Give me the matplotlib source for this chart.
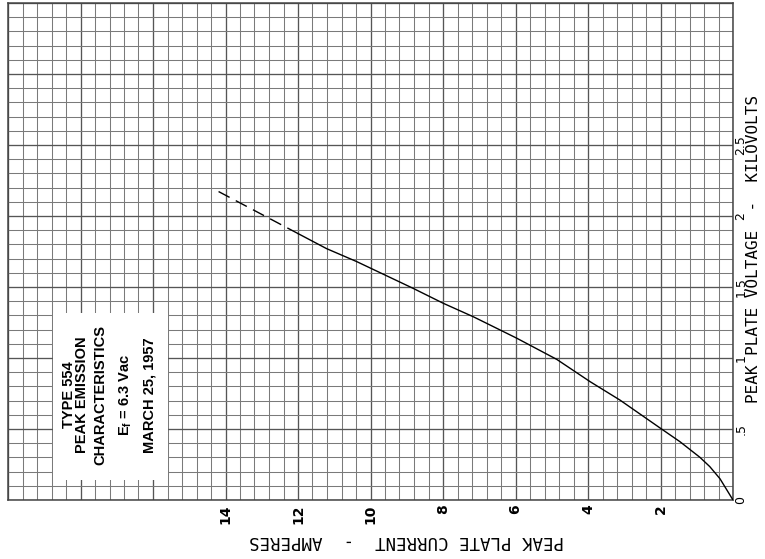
import numpy as np
import matplotlib
matplotlib.use("Agg")
import matplotlib.pyplot as plt
from matplotlib.patches import Rectangle

# peak plate current (A) vs peak plate voltage (kV)
current_solid = [0, 0.36, 0.64, 0.91, 1.46, 2.0, 3.12, 3.94, 4.86, 5.97,
                 7.16, 7.99, 8.82, 10.39, 11.21, 11.99]
voltage_solid = [0, 0.15, 0.235, 0.30, 0.41, 0.505, 0.704, 0.833, 0.99, 1.14,
                 1.29, 1.385, 1.49, 1.68, 1.77, 1.875]
current_dash = [11.99, 14.36]
voltage_dash = [1.875, 2.195]

current_ticks = [2, 4, 6, 8, 10, 12, 14]
current_labels = ["2", "4", "6", "8", "10", "12", "14"]
voltage_ticks = [0, 0.5, 1, 1.5, 2, 2.5]
voltage_labels = ["0", ".5", "1", "1.5", "2", "2.5"]

note_lines = ["TYPE 554", "PEAK EMISSION", "CHARACTERISTICS",
              r"E$_\mathregular{f}$ = 6.3 Vac", "MARCH 25, 1957"]

W, H = 765, 559
fig = plt.figure(figsize=(W / 100, H / 100), dpi=100)
ax = fig.add_axes([8 / W, (H - 500) / H, 725 / W, 497 / H])
ax.set_xlim(20, 0)
ax.set_ylim(0, 3.5)

# graph paper
xs = np.arange(0, 20.01, 0.4)
ys = np.arange(0, 3.501, 0.1)
for i, x in enumerate(xs):
    major = i % 5 == 0
    ax.axvline(x, color="#555555" if major else "#7a7a7a",
               lw=0.95 if major else 0.75, zorder=1)
for i, y in enumerate(ys):
    major = i % 5 == 0
    ax.axhline(y, color="#555555" if major else "#7a7a7a",
               lw=0.95 if major else 0.75, zorder=1)
for s in ax.spines.values():
    s.set_color("#444444")
    s.set_linewidth(1.1)

# the curve
ax.plot(current_solid, voltage_solid, color="black", lw=1.0, zorder=4)
ax.plot(current_dash, voltage_dash, color="black", lw=1.0,
        linestyle=(0, (9, 5)), zorder=4)

# ticks
ax.set_xticks(current_ticks)
ax.set_xticklabels(current_labels, rotation=90, fontsize=10,
                   fontweight="bold", family="DejaVu Sans")
ax.yaxis.tick_right()
ax.set_yticks(voltage_ticks)
ax.set_yticklabels(voltage_labels, rotation=90, fontsize=9,
                   family="DejaVu Sans", va="center")
ax.tick_params(axis="x", length=0, pad=3)
ax.tick_params(axis="y", length=0, pad=1)

ax.text(407 / W, 1 - 541 / H, "PEAK PLATE CURRENT  -  AMPERES",
        transform=fig.transFigure, rotation=180, ha="center", va="center",
        fontsize=12.5, family="DejaVu Sans Mono")
ax.text(754 / W, 1 - 249 / H, "PEAK PLATE VOLTAGE  -  KILOVOLTS",
        transform=fig.transFigure, rotation=90, ha="center", va="center",
        fontsize=11.5, family="DejaVu Sans Mono")

# pasted label
ax.add_patch(Rectangle((15.59, 0.141), 18.77 - 15.59, 1.317 - 0.141,
                       facecolor="white", edgecolor="none", zorder=3))
note_x = [18.33, 17.95, 17.46, 16.76, 16.11]
for x, line in zip(note_x, note_lines):
    ax.text(x, 0.74, line, rotation=90, ha="center", va="center", zorder=5,
            fontsize=10.5, fontweight="bold", family="Liberation Sans")

fig.savefig("out.png", dpi=100, facecolor="white")
